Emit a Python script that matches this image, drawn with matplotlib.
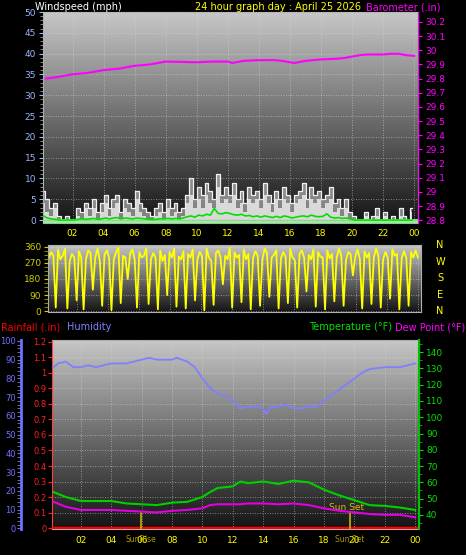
import numpy as np
import matplotlib
matplotlib.use("Agg")
import matplotlib.pyplot as plt
from matplotlib.ticker import MultipleLocator

# ---------------- data ----------------
hour_ticks = [2, 4, 6, 8, 10, 12, 14, 16, 18, 20, 22, 24]
hour_labels = ["02", "04", "06", "08", "10", "12", "14", "16", "18", "20", "22", "00"]

wind_gust = [7,5,3,4,1,0,1,0, 0,3,2,4,3,5,2,4, 6,3,5,6,2,5,4,3, 7,4,3,2,1,3,4,2,
             5,3,4,2,3,6,10,5, 8,6,9,7,5,11,6,8, 6,9,5,7,4,8,6,7, 5,9,6,4,7,5,8,6,
             4,6,7,9,5,8,6,7, 5,6,8,4,5,3,5,2, 1,0,0,2,0,1,3,0, 2,0,1,0,3,1,0,3]
wind_speed = [4,2,1,3,0,0,0,0, 0,1,0,3,1,3,0,2, 4,1,3,4,0,3,2,1, 5,2,1,0,0,1,2,0,
              3,1,2,0,1,4,6,3, 5,3,6,4,3,8,4,5, 4,6,3,4,2,5,4,5, 3,6,4,2,5,3,5,4,
              2,4,5,6,3,5,4,5, 3,4,5,2,3,1,3,0, 0,0,0,1,0,0,1,0, 1,0,0,0,1,0,0,2]
wind_avg = [1,0.5,0.3,0.2,0,0,0,0, 0,0.2,0.3,0.2,0.3,0.4,0.2,0.3, 0.5,0.3,0.5,0.6,0.3,0.5,0.4,0.3,
            0.5,0.4,0.3,0.2,0.1,0.2,0.3,0.3, 0.4,0.3,0.4,0.3,0.5,0.8,1.0,0.7, 1.2,1.0,1.4,1.2,2.8,1.6,1.5,1.8,
            1.6,1.3,1.2,1.4,1.0,1.1,0.8,1.0, 0.7,1.0,0.8,0.6,0.9,0.6,1.0,0.8, 0.5,0.7,0.9,1.0,0.8,1.2,0.9,0.8,
            0.9,1.5,0.7,0.5,0.6,0.4,0.5,0.3, 0,0,0,0,0,0,0,0, 0,0,0,0,0,0,0,0]
baro_hours = [0.3, 1, 2, 3, 4, 5, 6, 7, 7.5, 8, 10, 11, 12, 12.3, 13, 14, 15, 15.5, 16, 16.3, 17, 18, 19, 19.5, 20, 20.5, 21, 22, 22.5, 23, 23.5, 24]
baro = [29.80, 29.81, 29.83, 29.84, 29.86, 29.87, 29.89, 29.90, 29.91, 29.92, 29.915, 29.92, 29.92, 29.91, 29.925,
        29.93, 29.93, 29.925, 29.915, 29.91, 29.925, 29.935, 29.94, 29.945, 29.955, 29.965, 29.97, 29.97, 29.975, 29.975, 29.965, 29.96]

wind_dir = [300,330,310,20,345,290,310,350,15,280,320,300,60,335,300,10,290,340,325,120,
            300,350,280,30,315,340,300,5,290,330,355,45,310,300,180,320,345,290,20,330,
            300,310,350,40,290,325,300,10,340,280,315,90,330,300,350,25,305,290,335,15,
            320,300,345,60,290,330,310,5,350,300,280,35,325,340,300,150,310,290,355,20,
            330,300,315,50,345,290,320,10,300,335,310,30,290,350,325,80,300,315,340,15,
            295,330,305,45,350,300,285,20,320,340,300,110,315,290,345,25,330,305,300,10,
            340,295,320,55,300,350,310,30,285,330,320,200,305,345,290,15,335,300,325,40,
            300,350,310,20,290,330,300,70,345,310,320,10,295,335,300,30,330,300,340,300]

hum_hours = [0.2,0.5,1,1.5,2,2.5,3,3.5,4,5,6,6.5,7,8,8.3,9,9.5,10,10.5,11,11.5,12,12.5,13,13.5,14,14.2,
             14.5,15,15.5,16,16.5,17,17.5,18,18.5,19,19.5,20,20.5,21,22,22.5,23,24]
humidity = [86,88,89,86,86,87,86,87,88,88,90,91,90,90,91,89,86,80,75,72,71,68,64,65,65,64,61,
            65,65,66,64,64,65,65,68,71,74,77,80,83,85,86,86,86,88]
tp_hours = [0.2,1,2,4,5,6,7,8,9,10,10.5,11,12,12.5,13,14,15,16,17,18,19,20,21,22,23,24]
temperature = [54,51,48.5,48.5,47,46.5,46,47.5,48,51,54,56.5,57.5,60.5,59.5,60.5,59,61,60,55.5,52,49,46,45.5,44.5,43]
dewpoint = [48,45,43,43,42.5,42,41.5,42.5,43,44,46,46.5,46.5,46.5,47,47,46.5,47,46,44,42.5,41.5,40.5,40,40,38.5]
rain_hours = [0.1, 24.2]
rainfall = [0, 0]
sunrise, sunset = 5.95, 19.7

# ---------------- style ----------------
W, H = 466, 555
fig = plt.figure(figsize=(W/100, H/100), dpi=100, facecolor="black")
FS = 6.5
grad = np.linspace(0.78, 0.08, 256).reshape(-1, 1)

def panel(rect, xlim, ylim):
    ax = fig.add_axes(rect)
    ax.set_facecolor("black")
    ax.imshow(grad, cmap="gray", vmin=0, vmax=1, aspect="auto",
              extent=[xlim[0], xlim[1], ylim[0], ylim[1]], zorder=0)
    ax.set_xlim(*xlim); ax.set_ylim(*ylim)
    for s in ax.spines.values():
        s.set_color("#b0b0b0")
    ax.grid(True, color="#d8d8d8", ls=(0, (1, 2)), lw=0.6, alpha=0.7)
    ax.set_axisbelow(False)
    return ax

# ---- top: wind + barometer ----
ax1 = panel([43/W, 1-223/H, 375/W, 211/H], (0.1, 24.25), (-0.7, 50))
hrs = [0.25*(i+1) - 0.12 for i in range(len(wind_gust))]
ax1.fill_between(hrs, 0, wind_gust, step="mid", color="#d8d8d8", alpha=0.55, lw=0, zorder=2)
ax1.fill_between(hrs, 0, wind_speed, step="mid", color="#f0f0f0", alpha=0.8, lw=0, zorder=2)
ax1.step(hrs, wind_gust, where="mid", color="#f0f0f0", lw=0.9, zorder=2)
ax1.plot(hrs, wind_avg, color="#00e000", lw=1.2, zorder=3)
ax1.axhline(0, color="#d0d0d0", lw=1.2, zorder=2)
ax1.axhline(-0.4, color="#80ff80", lw=1.5, zorder=3)
ax1.yaxis.set_major_locator(MultipleLocator(5))
ax1.yaxis.set_minor_locator(MultipleLocator(1))
ax1.tick_params(axis="y", colors="#9db4ff", labelsize=FS, length=3, pad=2)
ax1.tick_params(axis="y", which="minor", colors="#a0a0a0", length=2)
ax1.set_xticks(hour_ticks); ax1.set_xticklabels(hour_labels)
ax1.tick_params(axis="x", colors="#ffff00", labelsize=FS, length=0, pad=4)
ax1b = ax1.twinx()
ax1b.set_ylim(28.78, 30.27)
ax1b.plot(baro_hours, baro, color="#ff00ff", lw=1.5)
bt = np.round(np.arange(28.8, 30.21, 0.1), 1)
ax1b.set_yticks(bt)
ax1b.set_yticklabels([("%g" % v) for v in bt])
ax1b.tick_params(axis="y", colors="#ff00ff", labelsize=FS, length=3, pad=2)
ax1b.spines["right"].set_color("#ff00ff")
for s in ["top", "left", "bottom"]:
    ax1b.spines[s].set_visible(False)
fig.text(35/W, 1-7/H, "Windspeed (mph)", color="white", fontsize=7, va="center")
fig.text(278/W, 1-7/H, "24 hour graph day : April 25 2026", color="#ffff00", fontsize=7, va="center", ha="center")
fig.text(440/W, 1-7/H, "Barometer (.in)", color="#ff00ff", fontsize=7, va="center", ha="right")

# ---- middle: wind direction ----
ax2 = panel([48/W, 1-312/H, 373/W, 67/H], (0.1, 24.2), (-5, 370))
dh = [0.15*(i+1) for i in range(len(wind_dir))]
ax2.plot(dh, wind_dir, color="#ffff00", lw=1.3)
ax2.set_yticks([0, 90, 180, 270, 360])
ax2.yaxis.set_minor_locator(MultipleLocator(22.5))
ax2.tick_params(axis="y", colors="#d0d000", labelsize=FS, length=3, pad=2)
ax2.tick_params(axis="y", which="minor", colors="#a0a000", length=3)
ax2.set_xticks(hour_ticks); ax2.tick_params(axis="x", labelbottom=False, length=0)
for i, c in enumerate("NWSEN"):
    fig.text(440/W, 1-(245 + i*16.5)/H, c, color="#ffff00", fontsize=7, ha="center", va="center")

# ---- bottom: rain / humidity / temperature ----
ax3 = panel([52/W, 1-529/H, 367/W, 189/H], (0.1, 24.25), (-0.005, 1.21))
ax3.plot(rain_hours, rainfall, color="#ff0000", lw=2.5, zorder=4)
rt = np.round(np.arange(0, 1.21, 0.1), 1)
ax3.set_yticks(rt)
ax3.set_yticklabels([("%g" % v) for v in rt])
ax3.tick_params(axis="y", colors="#ff2020", labelsize=6, length=3, pad=1)
ax3.spines["left"].set_color("#ff4040"); ax3.spines["left"].set_linestyle((0, (2, 1)))
ax3.set_xticks(hour_ticks); ax3.set_xticklabels(hour_labels)
ax3.tick_params(axis="x", colors="#ffff00", labelsize=FS, length=0, pad=5)
for t in (sunrise, sunset):
    ax3.plot([t, t], [0, 0.1], color="#c8b400", lw=1.2, zorder=5)
ax3.text(sunset - 0.2, 0.12, "Sun Set", color="#d8c000", fontsize=6.5, ha="center", zorder=6)
ax3.text(sunrise, -0.045, "SunRise", color="#d8c000", fontsize=5.5, ha="center", va="top", alpha=0.8)
ax3.text(sunset, -0.045, "Sun Set", color="#d8c000", fontsize=5.5, ha="center", va="top", alpha=0.8)

axh = ax3.twinx()
axh.spines["left"].set_position(("outward", 22))
axh.spines["left"].set_visible(True); axh.spines["left"].set_color("#7070ff"); axh.spines["left"].set_linewidth(2)
axh.yaxis.set_label_position("left"); axh.yaxis.set_ticks_position("left")
for s in ["top", "right", "bottom"]:
    axh.spines[s].set_visible(False)
axh.set_ylim(-0.3, 100.5)
axh.plot(hum_hours, humidity, color="#8080ff", lw=1.3)
axh.yaxis.set_major_locator(MultipleLocator(10))
axh.yaxis.set_minor_locator(MultipleLocator(2))
axh.tick_params(axis="y", colors="#7070ff", labelsize=6, length=3, pad=1)
axh.tick_params(axis="y", which="minor", colors="#8080a0", length=3)

axt = ax3.twinx()
axt.set_ylim(31.3, 147.5)
axt.plot(tp_hours, temperature, color="#00d000", lw=1.5)
axt.plot(tp_hours, dewpoint, color="#e000e0", lw=1.5)
axt.set_yticks(range(40, 141, 10))
axt.yaxis.set_minor_locator(MultipleLocator(5))
axt.tick_params(axis="y", colors="#00e000", labelsize=FS, length=3, pad=2)
axt.tick_params(axis="y", which="minor", colors="#00c000", length=2)
axt.spines["right"].set_color("#00c000"); axt.spines["right"].set_linewidth(1.5)
for s in ["top", "left", "bottom"]:
    axt.spines[s].set_visible(False)

fig.text(1/W, 1-327/H, "Rainfall (.in)", color="#ff0000", fontsize=7, va="center")
fig.text(67/W, 1-327/H, "Humidity", color="#8080ff", fontsize=7, va="center")
fig.text(392/W, 1-327/H, "Temperature (°F)", color="#00e000", fontsize=7, va="center", ha="right")
fig.text(465/W, 1-327/H, "Dew Point (°F)", color="#ff00ff", fontsize=7, va="center", ha="right")

fig.savefig("out.png", dpi=100, facecolor="black")
